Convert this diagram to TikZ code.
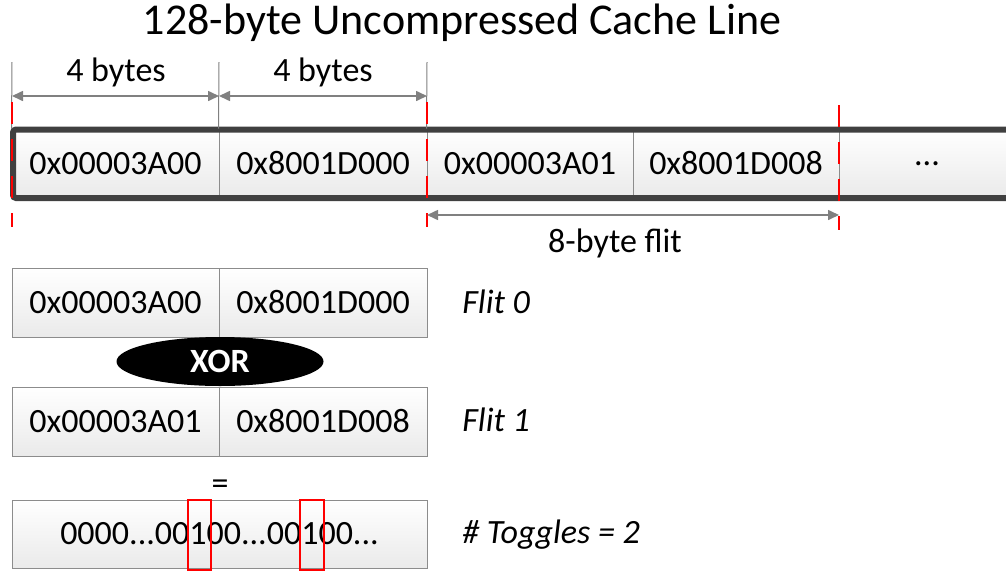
\documentclass[tikz,border=0pt]{standalone}
\usepackage{fontspec}
\setmainfont{Carlito}
\usetikzlibrary{shapes.geometric,arrows.meta}

\tikzset{every picture/.style={line width=0.75pt}}
\tikzset{
  cell/.style={draw={rgb, 255:red, 140; green, 140; blue, 140 }, line width=1pt,
    top color=white, bottom color={rgb, 255:red, 234; green, 234; blue, 234 },
    minimum height=69pt, inner sep=0pt, font=\fontsize{34}{40}\selectfont},
  txt/.style={font=\fontsize{34}{40}\selectfont, inner sep=0pt},
  dim/.style={color={rgb, 255:red, 128; green, 128; blue, 128 }, line width=1.6pt,
    {Triangle[length=11pt,width=10pt]}-{Triangle[length=11pt,width=10pt]}},
  ext/.style={color={rgb, 255:red, 128; green, 128; blue, 128 }, line width=1pt},
  cut/.style={color={rgb, 255:red, 255; green, 0; blue, 0 }, line width=2.8pt, dash pattern=on 22pt off 15pt},
  hit/.style={draw={rgb, 255:red, 255; green, 0; blue, 0 }, line width=2.5pt}
}

\begin{document}
\begin{tikzpicture}[x=1pt,y=1pt,yscale=-1,xscale=1]
\useasboundingbox (0,0) rectangle (1006,571);

% Text Node
\draw (462,23) node (title) [font=\fontsize{44}{52}\selectfont, inner sep=0pt] {128-byte Uncompressed Cache Line};

%Shape: cache line words
\draw (115.5,163.5) node (w0) [cell, minimum width=207pt] {0x00003A00};
\draw (323,163.5) node (w1) [cell, minimum width=208pt] {0x8001D000};
\draw (530,163.5) node (w2) [cell, minimum width=206pt] {0x00003A01};
\draw (736,163.5) node (w3) [cell, minimum width=206pt] {0x8001D008};
\draw (927,163.5) node (w4) [cell, minimum width=176pt] {...};
%Shape: thick frame
\draw [color={rgb, 255:red, 64; green, 64; blue, 64 }, line width=6pt, rounded corners=3pt] (1012,129.5) -- (13,129.5) -- (13,198) -- (1012,198) ;

% byte marks
\coordinate (e0) at (12,62); \coordinate (e1) at (219,62); \coordinate (e2) at (427,62);
\draw [ext] (e0) -- (w0.north west);
\draw [ext] (e1) -- (w1.north west);
\draw [ext] (e2) -- (w2.north west);
\coordinate (a0) at (12,96); \coordinate (a1) at (219,96); \coordinate (a2) at (427,96);
\draw [dim] (a0) -- (a1);
\draw [dim] (a1) -- (a2);
% Text Node
\draw (116,72) node (b0) [txt] {4 bytes};
% Text Node
\draw (323,72) node (b1) [txt] {4 bytes};

% flit cuts
\coordinate (r0a) at (12,102); \coordinate (r0b) at (12,227);
\coordinate (r1a) at (427,102); \coordinate (r1b) at (427,227);
\coordinate (r2a) at (839,105); \coordinate (r2b) at (839,230);
\draw [cut] (r0a) -- (r0b);
\draw [cut] (r1a) -- (r1b);
\draw [cut] (r2a) -- (r2b);
\coordinate (f0) at (427,215); \coordinate (f1) at (839,215);
\draw [dim] (f0) -- (f1);
% Text Node
\draw (615,243) node (flit) [txt] {8-byte flit};

%Shape: Flit 0
\draw (115.5,302.5) node (p0) [cell, minimum width=207pt] {0x00003A00};
\draw (323,302.5) node (p1) [cell, minimum width=208pt] {0x8001D000};
% Text Node
\draw (462,302) node (l0) [txt, anchor=west] {\textit{Flit 0}};

%Shape: XOR
\draw (220,361.5) node (xor) [ellipse, fill=black, minimum width=207pt, minimum height=49pt, inner sep=0pt, font=\fontsize{34}{40}\selectfont\bfseries, text=white] {XOR};

%Shape: Flit 1
\draw (115.5,421.5) node (q0) [cell, minimum width=207pt] {0x00003A01};
\draw (323,421.5) node (q1) [cell, minimum width=208pt] {0x8001D008};
% Text Node
\draw (462,420) node (l1) [txt, anchor=west] {\textit{Flit 1}};

% Text Node
\draw (220,487) node (eq) [txt] {=};

%Shape: result
\draw (219.5,534) node (res) [cell, minimum width=415pt, minimum height=68pt] {0000...00100...00100...};
\draw [hit] (188,500) rectangle (211,570);
\draw [hit] (300,500) rectangle (324,570);
% Text Node
\draw (462,535) node (tog) [txt, anchor=west] {\textit{\# Toggles = 2}};

\end{tikzpicture}
\end{document}
